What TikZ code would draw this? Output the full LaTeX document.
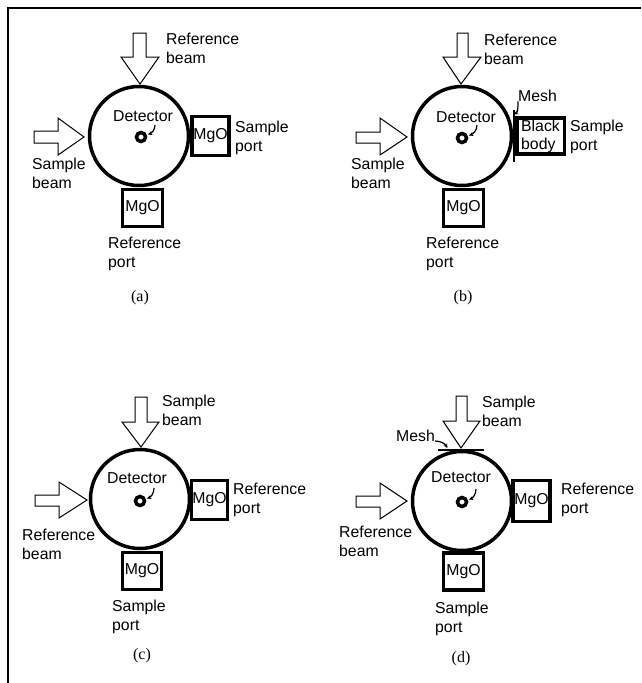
\documentclass[tikz,border=0pt]{standalone}
\usepackage{fontspec}
\setmainfont{Liberation Sans}
\newfontfamily\capfont{Liberation Serif}
\usepackage{tikz}
\usetikzlibrary{arrows.meta}
\tikzset{
  frameline/.style={line width=1.5pt},
  beam/.style={draw,line width=1pt,fill=white,line join=miter},
  sphere/.style={circle,draw,line width=3.5pt,minimum size=99pt,inner sep=0pt},
  portbox/.style={rectangle,draw,line width=3.5pt,inner sep=0pt,font=\fontsize{15.8}{18}\selectfont},
  ring/.style={circle,draw,line width=3.5pt,minimum size=9pt,inner sep=0pt},
  lbl/.style={anchor=base west,inner sep=0pt,align=left,font=\fontsize{15.8}{18.5}\selectfont},
  sublbl/.style={inner sep=0pt,font=\capfont\fontsize{16}{18}\selectfont},
  leader/.style={line width=1.2pt,-{Stealth[length=4.5pt,width=4pt]},shorten >=1pt},
  meshline/.style={line width=2.5pt}
}
\begin{document}
\begin{tikzpicture}[x=1pt,y=-1pt]
\useasboundingbox (0,0) rectangle (641,683);
\draw[frameline] (8,683) -- (8,8) -- (641,8);
% (a)
\node[sphere] (sphereA) at (139,136) {};
\draw[beam] (133,33) -- (146,33) -- (146,57) -- (159,57) -- (140,84) -- (121,57) -- (133,57) -- cycle;
\draw[beam] (34,131) -- (58,131) -- (58,118) -- (84,137) -- (58,155) -- (58,143) -- (34,143) -- cycle;
\node[portbox,minimum width=37pt,minimum height=39pt] (sampleA) at (210.5,136) {MgO};
\node[portbox,minimum width=40pt,minimum height=37pt] (refA) at (142.5,208) {MgO};
\node[lbl] (refbeamA) at (166,63) {Reference\\beam};
\node[lbl] (sampleportA) at (235,151) {Sample\\port};
\node[lbl] (samplebeamA) at (32,188) {Sample\\beam};
\node[lbl] (refportA) at (108,267) {Reference\\port};
\node[lbl] (detA) at (113,121) {Detector};
\node[ring] (ringA) at (141,137) {};
\coordinate (tipA) at (155,125);
\draw[leader] (tipA) to[out=-90,in=20] (ringA);
\node[sublbl] (capA) at (140,298) {(a)};
% (b)
\node[sphere] (sphereB) at (462,136) {};
\draw[beam] (457,33) -- (468,33) -- (468,57) -- (481,57) -- (461,84) -- (443,57) -- (457,57) -- cycle;
\draw[beam] (356,132) -- (380,132) -- (380,118) -- (407,137) -- (380,155) -- (380,143) -- (356,143) -- cycle;
\node[portbox,minimum width=47.5pt,minimum height=36pt,align=left] (sampleB) at (540.5,136) {Black\\body};
\node[portbox,minimum width=40pt,minimum height=37pt] (refB) at (463.5,208) {MgO};
\draw[meshline] (514,110) -- (514,162);
\node[lbl] (refbeamB) at (484,64) {Reference\\beam};
\node[lbl] (sampleportB) at (570,150) {Sample\\port};
\node[lbl] (samplebeamB) at (351,188) {Sample\\beam};
\node[lbl] (refportB) at (426,267) {Reference\\port};
\node[lbl] (meshB) at (518,101) {Mesh};
\node[lbl] (detB) at (436,122) {Detector};
\node[ring] (ringB) at (462,138) {};
\coordinate (tipB) at (477,125);
\draw[leader] (tipB) to[out=-90,in=20] (ringB);
\coordinate (meshendB) at (513,115);
\draw[leader] (meshB.south west) to[out=-90,in=30] (meshendB);
\node[sublbl] (capB) at (463,298) {(b)};
% (c)
\node[sphere] (sphereC) at (140,499) {};
\draw[beam] (135,397) -- (147,397) -- (147,422) -- (159,422) -- (141,447) -- (122,422) -- (135,422) -- cycle;
\draw[beam] (35,495) -- (59,495) -- (59,482) -- (87,500) -- (59,518) -- (59,506) -- (35,506) -- cycle;
\node[portbox,minimum width=36pt,minimum height=39pt] (refC) at (209.5,500) {MgO};
\node[portbox,minimum width=39pt,minimum height=37pt] (sampleC) at (142,571) {MgO};
\node[lbl] (samplebeamC) at (162,425) {Sample\\beam};
\node[lbl] (refportC) at (233,513) {Reference\\port};
\node[lbl] (refbeamC) at (22,559) {Reference\\beam};
\node[lbl] (sampleportC) at (112,630) {Sample\\port};
\node[lbl] (detC) at (107,483) {Detector};
\node[ring] (ringC) at (140,501) {};
\coordinate (tipC) at (154,488);
\draw[leader] (tipC) to[out=-90,in=20] (ringC);
\node[sublbl] (capC) at (142,656) {(c)};
% (d)
\node[sphere] (sphereD) at (462,501) {};
\draw[meshline] (438,450) -- (484,450);
\draw[beam] (456,396) -- (467,396) -- (467,421) -- (480,421) -- (461,448) -- (443,421) -- (456,421) -- cycle;
\draw[beam] (356,496) -- (380,496) -- (380,483) -- (407,501) -- (380,519) -- (380,507) -- (356,507) -- cycle;
\node[portbox,minimum width=37pt,minimum height=41pt] (refD) at (531.5,501) {MgO};
\node[portbox,minimum width=40pt,minimum height=37pt] (sampleD) at (463.5,571.5) {MgO};
\node[lbl] (samplebeamD) at (482,426) {Sample\\beam};
\node[lbl] (refportD) at (561,513) {Reference\\port};
\node[lbl] (refbeamD) at (339,556) {Reference\\beam};
\node[lbl] (sampleportD) at (435,632) {Sample\\port};
\node[lbl] (meshD) at (396,441) {Mesh};
\node[lbl] (detD) at (431,482) {Detector};
\node[ring] (ringD) at (462,502) {};
\coordinate (tipD) at (476,489);
\draw[leader] (tipD) to[out=-90,in=20] (ringD);
\coordinate (meshendD) at (448,449);
\draw[leader] (meshD.base east) to[out=0,in=120] (meshendD);
\node[sublbl] (capD) at (461,659) {(d)};
\end{tikzpicture}
\end{document}
